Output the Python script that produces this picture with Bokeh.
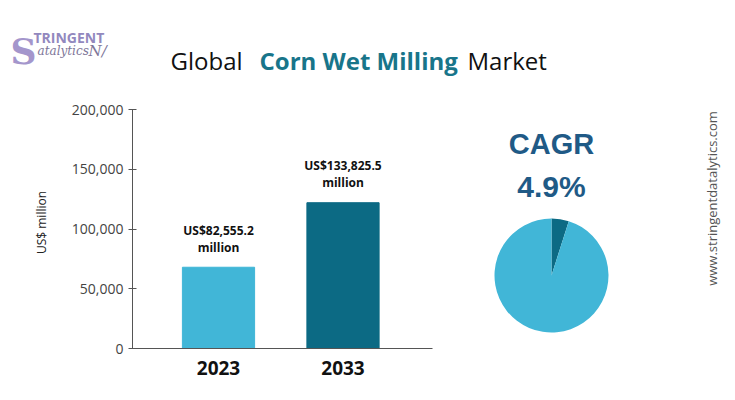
import math
from bokeh.plotting import figure
from bokeh.models import Range1d, FixedTicker, NumeralTickFormatter, Label, ColumnDataSource
from bokeh.core.properties import value
from bokeh.embed import file_html
from bokeh.resources import INLINE

# ---- data ----
years = ["2023", "2033"]
bar_values = [68000, 122000]
bar_labels = ["US$82,555.2", "US$133,825.5"]
bar_colors = ["#41B6D7", "#0C6A84"]
y_ticks = [0, 50000, 100000, 150000, 200000]
cagr_text = "4.9%"
pie_shares = [4.9, 95.1]
pie_colors = ["#0C6A84", "#41B6D7"]

W, H = 735, 400
X0, UNIT = 218.0, 124.5            # px of first bar centre, px per category
Y0, YSCALE = 348.0, 239.0 / 200000  # px of value 0, px per unit value

def dx(px):
    return (px - X0) / UNIT

def dy(py):
    return (Y0 - py) / YSCALE

p = figure(width=W, height=H, output_backend="svg", toolbar_location=None,
           x_range=Range1d(dx(0), dx(W)),
           y_range=Range1d(dy(H), dy(0)),
           min_border_left=0, min_border_right=0, min_border_top=0,
           min_border_bottom=0)
p.outline_line_color = None
p.grid.visible = False
p.background_fill_color = "white"
p.border_fill_color = "white"

idx = list(range(len(years)))
src = ColumnDataSource(dict(x=idx, top=bar_values, color=bar_colors,
                            lab=bar_labels, mil=["million"] * len(years)))
p.vbar(x="x", top="top", width=0.58, color="color", source=src)
p.text(x="x", y="top", text="lab", source=src, text_align="center",
       text_baseline="middle", y_offset=-37, text_font=value("Open Sans"),
       text_font_style="bold", text_font_size="12px", text_color="#111111")
p.text(x="x", y="top", text="mil", source=src, text_align="center",
       text_baseline="middle", y_offset=-20, text_font=value("Open Sans"),
       text_font_style="bold", text_font_size="12px", text_color="#111111")

# axes (placed inside the frame with fixed_location)
xa = p.xaxis[0]
xa.fixed_location = 0
xa.ticker = FixedTicker(ticks=idx)
xa.major_label_overrides = {i: y for i, y in zip(idx, years)}
xa.bounds = (dx(131), dx(432))
xa.major_tick_line_color = None
xa.minor_tick_line_color = None
xa.axis_line_color = "#555555"
xa.axis_line_width = 1.2
xa.major_label_text_font = "Open Sans"
xa.major_label_text_font_style = "bold"
xa.major_label_text_font_size = "19px"
xa.major_label_text_color = "#111111"
xa.major_label_standoff = 6

ya = p.yaxis[0]
ya.fixed_location = dx(132)
ya.ticker = FixedTicker(ticks=y_ticks)
ya.formatter = NumeralTickFormatter(format="0,0")
ya.bounds = (0, 200000)
ya.minor_tick_line_color = None
ya.major_tick_in = 4
ya.major_tick_out = 4
ya.axis_line_color = "#555555"
ya.major_tick_line_color = "#555555"
ya.major_label_text_font = "Open Sans"
ya.major_label_text_font_size = "14px"
ya.major_label_text_color = "#444444"
ya.major_label_standoff = 5

# pie (CAGR share)
cum = [0]
for s in pie_shares:
    cum.append(cum[-1] + s)
starts = [math.pi / 2 - 2 * math.pi * c / 100 for c in cum[:-1]]
ends = [math.pi / 2 - 2 * math.pi * c / 100 for c in cum[1:]]
p.wedge(x=dx(551), y=dy(275), radius=57, radius_units="screen",
        start_angle=ends, end_angle=starts, color=pie_colors, line_color=None)

def lab(text, px, py, size, color, font="Open Sans", style="normal",
        align="left", baseline="alphabetic", angle=0):
    # frame covers the canvas: screen x from left, y from bottom
    p.add_layout(Label(x=px, y=H - py, x_units="screen", y_units="screen",
                       text=text, text_font=font,
                       text_font_size=size, text_color=color,
                       text_font_style=style, text_align=align,
                       text_baseline=baseline, angle=angle))

# title
lab("Global", 170, 60, "24px", "#111111")
lab("Corn Wet Milling", 259, 60, "24px", "#18758A", style="bold")
lab("Market", 467, 60, "24px", "#111111")

# CAGR
lab("CAGR", 551, 143, "29px", "#1F5A86", font="Liberation Sans", style="bold",
    align="center", baseline="middle")
lab(cagr_text, 551, 186, "30px", "#1F5A86", font="Liberation Sans", style="bold",
    align="center", baseline="middle")

# watermark
lab("www.stringentdatalytics.com", 711, 198, "13px", "#555555",
    align="center", baseline="middle", angle=math.pi / 2)

# y axis label
lab("US$ million", 41, 222, "12px", "#222222", align="center",
    baseline="middle", angle=math.pi / 2)

# logo
lab("S", 10, 50, "36px", "#A496CC", font="DejaVu Serif", style="bold")
lab("TRINGENT", 33, 37, "14px", "#9288BE", style="bold")
lab("atalytics", 37, 50, "12px", "#7E7699", font="DejaVu Serif", style="italic")
lab("N/", 88, 50, "15px", "#7E7699", font="DejaVu Serif", style="italic")

open("out.html", "w").write(file_html(p, INLINE))
